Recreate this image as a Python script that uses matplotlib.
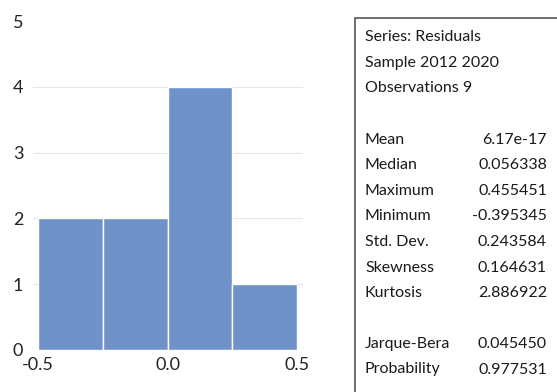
import matplotlib.pyplot as plt
from matplotlib.patches import Rectangle

# histogram data
bin_edges = [-0.5, -0.25, 0.0, 0.25, 0.5]
counts = [2, 2, 4, 1]

stat_header = ["Series: Residuals", "Sample 2012 2020", "Observations 9"]
stat_names = ["Mean", "Median", "Maximum", "Minimum", "Std. Dev.", "Skewness", "Kurtosis"]
stat_values = ["6.17e-17", "0.056338", "0.455451", "-0.395345", "0.243584", "0.164631", "2.886922"]
test_names = ["Jarque-Bera", "Probability"]
test_values = ["0.045450", "0.977531"]

plt.rcParams['font.family'] = ['Lato', 'DejaVu Sans']

W, H = 557, 392
fig = plt.figure(figsize=(W / 100, H / 100), dpi=100)
ax = fig.add_axes([33 / W, 1 - 350 / H, 270 / W, 329 / H])

lefts = bin_edges[:-1]
widths = [b - a for a, b in zip(bin_edges[:-1], bin_edges[1:])]
ax.bar(lefts, counts, width=widths, align='edge', color='#7092cb',
       edgecolor='white', linewidth=1.0, zorder=2)

ax.set_xlim(-0.52, 0.523)
ax.set_ylim(0, 5)
ax.set_yticks(range(6))
ax.set_xticks([-0.5, 0.0, 0.5])
ax.set_xticklabels(['-0.5', '0.0', '0.5'])
# light grid at 1..4 only (none drawn at the top value)
for g in range(1, 5):
    ax.axhline(g, color='#e6e6e6', linewidth=0.8, zorder=0)
for s in ax.spines.values():
    s.set_visible(False)
ax.tick_params(length=0, labelsize=13, colors='#222222')
ax.tick_params(axis='y', pad=7)
ax.tick_params(axis='x', pad=5)

# stats box
fig.patches.append(Rectangle((355 / W, -0.05), 0.5, 1 - 18 / H + 0.05,
                             transform=fig.transFigure, facecolor='white',
                             edgecolor='#555555', linewidth=1.2))

def ty(px):
    return 1 - px / H

fs = 11.5
col = '#1a1a1a'
for i, t in enumerate(stat_header):
    fig.text(365 / W, ty(37 + 25.5 * i), t, fontsize=fs, color=col, va='center')
for i, (n, v) in enumerate(zip(stat_names, stat_values)):
    y = ty(140 + 25.5 * i)
    fig.text(365 / W, y, n, fontsize=fs, color=col, va='center')
    fig.text(547 / W, y, v, fontsize=fs, color=col, va='center', ha='right')
for i, (n, v) in enumerate(zip(test_names, test_values)):
    y = ty(344 + 25.5 * i)
    fig.text(365 / W, y, n, fontsize=fs, color=col, va='center')
    fig.text(547 / W, y, v, fontsize=fs, color=col, va='center', ha='right')

fig.savefig('out.png', dpi=100)
